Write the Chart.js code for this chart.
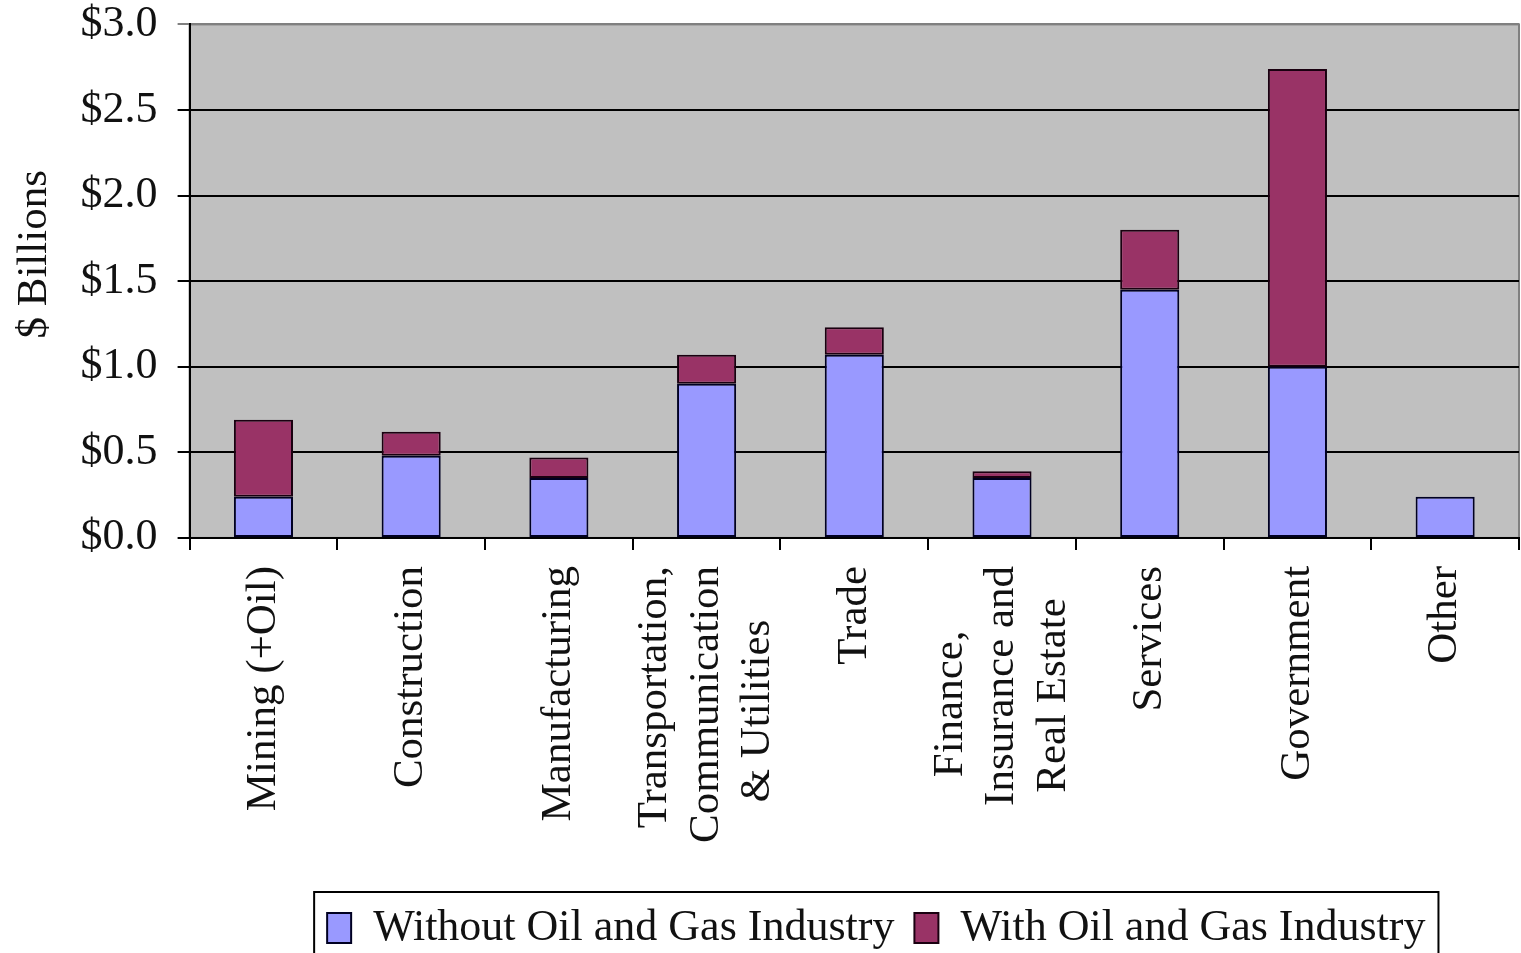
<!DOCTYPE html>
<html>
<head>
<meta charset="utf-8">
<script src="https://cdn.jsdelivr.net/npm/chart.js@4.4.1/dist/chart.umd.min.js"></script>
<style>
    html, body { margin: 0; padding: 0; background: #fff; overflow: hidden; }
    #wrap { width: 1521px; height: 982px; position: relative; margin-top: -22px; }
</style>
</head>
<body>
<div id="wrap"><canvas id="myChart"></canvas></div>
<script>
// Chart data ($ billions)
// every label has three lines so the wrapped ones sit centred on their bar
var categories = [
    ['', 'Mining (+Oil)', ''],
    ['', 'Construction', ''],
    ['', 'Manufacturing', ''],
    ['Transportation,', 'Communication', '& Utilities\u00a0\u00a0\u00a0\u00a0\u00a0'],
    ['', 'Trade', ''],
    ['Finance,\u00a0\u00a0\u00a0\u00a0\u00a0\u00a0', 'Insurance and', 'Real Estate\u00a0\u00a0\u00a0'],
    ['', 'Services', ''],
    ['', 'Government', ''],
    ['', 'Other', '']
];
var withoutOilGas = [0.24, 0.48, 0.35, 0.90, 1.07, 0.35, 1.45, 1.00, 0.24];
var withOilGas    = [0.45, 0.14, 0.12, 0.17, 0.16, 0.04, 0.35, 1.74, null];
var seriesNames = ['Without Oil and Gas Industry', 'With Oil and Gas Industry'];
var yTickLabels = ['$0.0', '$0.5', '$1.0', '$1.5', '$2.0', '$2.5', '$3.0'];

var serif = 'Liberation Serif, Times New Roman, serif';
var xFontSize = 43;
var xLineHeight = 1.2;

// Gray plot area with a thin gray frame
var plotBackground = {
    id: 'plotBackground',
    beforeDraw: function(chart) {
        var a = chart.chartArea;
        var c = chart.ctx;
        c.save();
        c.fillStyle = '#c0c0c0';
        c.fillRect(a.left, a.top, a.right - a.left, a.bottom - a.top);
        c.strokeStyle = '#808080';
        c.lineWidth = 2;
        c.strokeRect(a.left, a.top, a.right - a.left, a.bottom - a.top);
        c.restore();
    }
};

// The original legend sits a little right of the plot centre
var legendShift = {
    id: 'legendShift',
    afterLayout: function(chart) {
        chart.legend.left += 22;
        chart.legend.right += 22;
    }
};

// Border round the legend, like the original
var legendFrame = {
    id: 'legendFrame',
    afterDraw: function(chart) {
        var boxes = chart.legend.legendHitBoxes;
        if (!boxes || !boxes.length) return;
        var left = Infinity, right = -Infinity, top = Infinity;
        boxes.forEach(function(b) {
            left = Math.min(left, b.left);
            right = Math.max(right, b.left + b.width);
            top = Math.min(top, b.top);
        });
        var c = chart.ctx;
        c.save();
        c.strokeStyle = '#000';
        c.lineWidth = 2;
        c.strokeRect(left - 13, top - 14, right - left + 26, 90);
        c.restore();
    }
};

var ctx = document.getElementById('myChart').getContext('2d');
var myChart = new Chart(ctx, {
    type: 'bar',
    data: {
        labels: categories,
        datasets: [{
            label: seriesNames[0],
            data: withoutOilGas,
            backgroundColor: '#9999ff',
            borderColor: '#000022',
            borderWidth: 2,
            borderSkipped: false,
            barPercentage: 0.4,
            categoryPercentage: 1
        }, {
            label: seriesNames[1],
            data: withOilGas,
            backgroundColor: '#993366',
            borderColor: '#1a0010',
            borderWidth: 2,
            borderSkipped: false,
            barPercentage: 0.4,
            categoryPercentage: 1
        }]
    },
    options: {
        responsive: true,
        maintainAspectRatio: false,
        animation: false,
        layout: { padding: { left: 9, right: 2, top: 4, bottom: 0 } },
        plugins: {
            legend: {
                position: 'bottom',
                fullSize: false,
                labels: {
                    font: { family: serif, size: 44 },
                    color: '#111',
                    boxWidth: 24,
                    boxHeight: 30,
                    padding: 20
                }
            },
            tooltip: { enabled: false }
        },
        scales: {
            x: {
                stacked: true,
                grid: {
                    offset: true,
                    drawOnChartArea: false,
                    color: '#000',
                    lineWidth: 2,
                    tickLength: 12
                },
                border: { color: '#000', width: 2 },
                ticks: {
                    autoSkip: false,
                    maxRotation: 90,
                    minRotation: 90,
                    padding: 16,
                    // pull the middle line of each label back onto the bar centre
                    labelOffset: -xFontSize * xLineHeight,
                    color: '#111',
                    font: { family: serif, size: xFontSize, lineHeight: xLineHeight }
                },
                afterFit: function(scale) {
                    // leave room between the labels and the legend
                    scale.height += 27;
                    // the blank label lines should not push the plot inwards
                    scale.paddingLeft = 0;
                    scale.paddingRight = 0;
                }
            },
            y: {
                stacked: true,
                min: 0,
                max: 3,
                grid: {
                    color: function(c) { return c.index === 6 ? '#808080' : '#000'; },
                    lineWidth: 2,
                    tickLength: 12
                },
                border: { color: '#000', width: 2 },
                ticks: {
                    stepSize: 0.5,
                    padding: 20,
                    color: '#111',
                    font: { family: serif, size: 44 },
                    callback: function(value) {
                        return yTickLabels[Math.round(value / 0.5)];
                    }
                },
                title: {
                    display: true,
                    // leading spaces lift the title a bit above the axis centre
                    text: '\u00a0\u00a0\u00a0\u00a0\u00a0$ Billions',
                    color: '#111',
                    font: { family: serif, size: 43 },
                    padding: { top: 0, bottom: 0 }
                }
            }
        }
    },
    plugins: [plotBackground, legendShift, legendFrame]
});
</script>
</body>
</html>
